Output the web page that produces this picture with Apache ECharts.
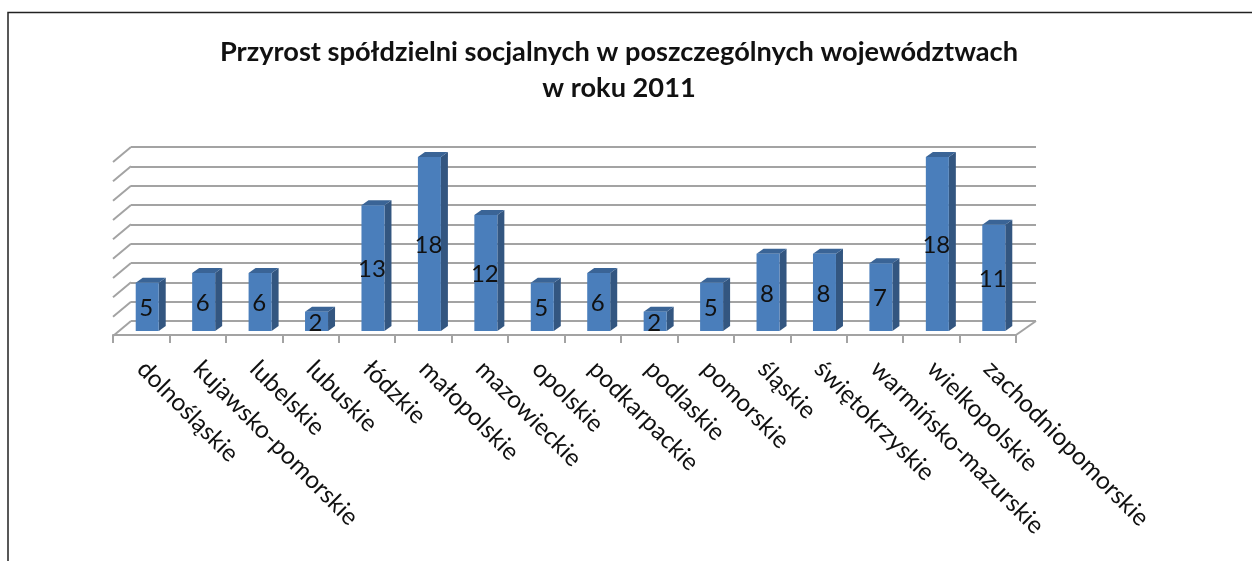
<!DOCTYPE html>
<html><head><meta charset="utf-8">
<style>html,body{margin:0;padding:0;background:#fff}#c{width:1252px;height:561px}</style>
<script src="https://cdn.jsdelivr.net/npm/echarts@6/dist/echarts.min.js"></script>
</head><body><div id="c"></div>
<script>
const categories = ['dolnośląskie','kujawsko-pomorskie','lubelskie','lubuskie','łódzkie','małopolskie','mazowieckie','opolskie','podkarpackie','podlaskie','pomorskie','śląskie','świętokrzyskie','warmińsko-mazurskie','wielkopolskie','zachodniopomorskie'];
const values = [5,6,6,2,13,18,12,5,6,2,5,8,8,7,18,11];
const gridTicks = [0,2,4,6,8,10,12,14,16,18];
const titleLines = 'Przyrost spółdzielni socjalnych w poszczególnych województwach\nw roku 2011';
const FONT = 'Lato';
const GRIDC = '#a3a3a3';
const chart = echarts.init(document.getElementById('c'));
chart.setOption({
  animation:false,
  backgroundColor:'#fff',
  title:{text:titleLines,left:614,top:29,textAlign:'center',
    textStyle:{fontFamily:FONT,fontSize:27.2,fontWeight:'bold',color:'#111',lineHeight:36}},
  graphic:[{type:'polyline',silent:true,z:0,
    shape:{points:[[8,561],[8,12.5],[1252,12.5]]},
    style:{stroke:'#222',lineWidth:1.5,fill:null}}],
  grid:[
    {left:131,right:216,top:147,bottom:240},
    {left:113,right:236,top:161,bottom:226},
    {left:119,right:230,top:157,bottom:230}
  ],
  xAxis:[
    {gridIndex:0,type:'category',data:categories,show:false},
    {gridIndex:1,type:'category',data:categories,
      axisLine:{show:true,lineStyle:{color:GRIDC,width:2}},
      axisTick:{show:true,length:8,lineStyle:{color:GRIDC,width:2}},
      axisLabel:{interval:0,rotate:-45,margin:30,fontFamily:FONT,fontSize:24.5,color:'#111'}},
    {gridIndex:2,type:'category',data:categories,show:false}
  ],
  yAxis:[
    {gridIndex:0,type:'value',min:0,max:18,interval:2,
      axisLine:{show:false},axisTick:{show:false},axisLabel:{show:false},
      splitLine:{show:true,lineStyle:{color:GRIDC,width:2}}},
    {gridIndex:1,type:'value',min:0,max:18,show:false,splitLine:{show:false}},
    {gridIndex:2,type:'value',min:0,max:18,show:false,splitLine:{show:false}}
  ],
  series:[
    {type:'custom',coordinateSystem:'cartesian2d',xAxisIndex:0,yAxisIndex:0,data:gridTicks.map(v=>[0,v]),z:1,silent:true,
      renderItem(params,api){
        const cs=params.coordSys;
        const y=api.coord([0,api.value(1)])[1];
        const line=(x1,y1,x2,y2)=>({type:'line',shape:{x1,y1,x2,y2},style:{stroke:GRIDC,lineWidth:2}});
        const children=[line(cs.x,y,cs.x-18,y+15)];
        if(params.dataIndex===0) children.push(line(cs.x+cs.width,y,cs.x+cs.width-20,y+14));
        return {type:'group',children};
      },
      encode:{x:0,y:1}},
    {type:'custom',coordinateSystem:'cartesian2d',xAxisIndex:2,yAxisIndex:2,z:3,silent:true,
      data:values.map((v,i)=>[i,v]),
      renderItem(params,api){
        const p=api.coord([api.value(0),api.value(1)]);
        const b=api.coord([api.value(0),0]);
        const w=23, dx=7, dy=5;
        const x=p[0]-w/2, t=p[1], bot=b[1];
        return {type:'group',children:[
          {type:'polygon',shape:{points:[[x+w,t],[x+w+dx,t-dy],[x+w+dx,bot-dy],[x+w,bot]]},style:{fill:'#335680'}},
          {type:'polygon',shape:{points:[[x,t],[x+dx,t-dy],[x+w+dx,t-dy],[x+w,t]]},style:{fill:'#3a6496'}},
          {type:'rect',shape:{x,y:t,width:w,height:bot-t},style:{fill:'#4a7ebb'}},
          {type:'text',style:{x:p[0]-1,y:(t+bot)/2+1.5,text:String(api.value(1)),fill:'#111',
            font:'24px '+FONT,align:'center',verticalAlign:'middle'}}
        ]};
      },
      encode:{x:0,y:1}}
  ]
});
</script></body></html>
